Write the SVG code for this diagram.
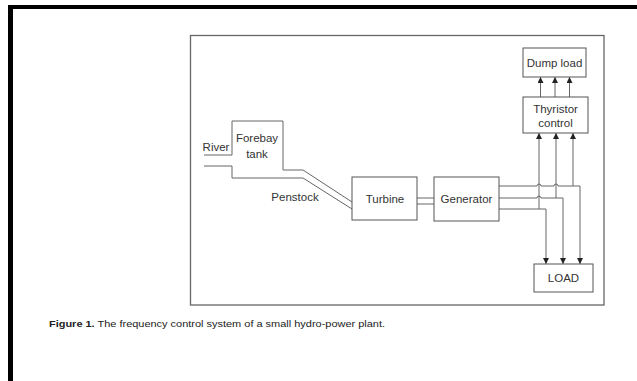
<svg xmlns="http://www.w3.org/2000/svg" width="637" height="381" viewBox="0 0 637 381">
<style>
.box{fill:#fff;stroke:#555;stroke-width:1}
.ln{fill:none;stroke:#666;stroke-width:1}
.t{font-family:"Liberation Sans",Arial,sans-serif;font-size:11.5px;fill:#333;text-anchor:middle}
.cap{font-family:"Liberation Sans",Arial,sans-serif;font-size:9px;fill:#222}
</style>
<defs>
<marker id="ah" viewBox="0 0 6 6" refX="6" refY="3" markerWidth="6" markerHeight="6" markerUnits="userSpaceOnUse" orient="auto">
<path d="M0,0 L6,3 L0,6 Z" fill="#222"/>
</marker>
</defs>
<rect x="0" y="0" width="637" height="381" fill="#fff"/>
<rect x="8" y="5" width="629" height="4" fill="#000"/>
<rect x="8" y="5" width="5" height="376" fill="#000"/>
<rect x="190.5" y="35.5" width="413.5" height="269.5" fill="none" stroke="#666" stroke-width="1.3"/>

<g id="connectors">
<path class="ln" d="M204 155 H232 V121 H283 V170 H303 L352 202"/>
<path class="ln" d="M204 166 H232 V178 H303 L352 209"/>
<path class="ln" d="M417 198 H434 M417 204 H434"/>
<path class="ln" d="M499 186 H537 a2 2 0 0 1 4 0 H554 a2 2 0 0 1 4 0 H580 V264" marker-end="url(#ah)"/>
<path class="ln" d="M499 198 H537 a2 2 0 0 1 4 0 H563 V264" marker-end="url(#ah)"/>
<path class="ln" d="M499 209 H546 V264" marker-end="url(#ah)"/>
<path class="ln" d="M573 186 V133" marker-end="url(#ah)"/>
<path class="ln" d="M556 198 V133" marker-end="url(#ah)"/>
<path class="ln" d="M539 209 V133" marker-end="url(#ah)"/>
<path class="ln" d="M540.5 97 V77" marker-end="url(#ah)"/>
<path class="ln" d="M555 97 V77" marker-end="url(#ah)"/>
<path class="ln" d="M569.5 97 V77" marker-end="url(#ah)"/>
</g>

<g id="river"><text class="t" x="216" y="151">River</text></g>
<g id="forebay"><text class="t" x="257" y="142">Forebay</text><text class="t" x="257" y="158">tank</text></g>
<g id="penstock"><text class="t" x="295" y="201">Penstock</text></g>
<g id="turbine"><rect class="box" x="352" y="177" width="65" height="43"/><text class="t" x="385" y="203">Turbine</text></g>
<g id="generator"><rect class="box" x="434" y="177" width="65" height="44"/><text class="t" x="466.5" y="203">Generator</text></g>
<g id="dumpload"><rect class="box" x="523" y="48" width="63" height="29"/><text class="t" x="554.5" y="67">Dump load</text></g>
<g id="thyristor"><rect class="box" x="523" y="97" width="65" height="36"/><text class="t" x="555.5" y="113">Thyristor</text><text class="t" x="555.5" y="127">control</text></g>
<g id="load"><rect class="box" x="534" y="264" width="59" height="28"/><text class="t" x="563.5" y="282">LOAD</text></g>

<text class="cap" x="49" y="327" textLength="336" lengthAdjust="spacingAndGlyphs"><tspan font-weight="bold">Figure 1.</tspan> The frequency control system of a small hydro-power plant.</text>
</svg>
